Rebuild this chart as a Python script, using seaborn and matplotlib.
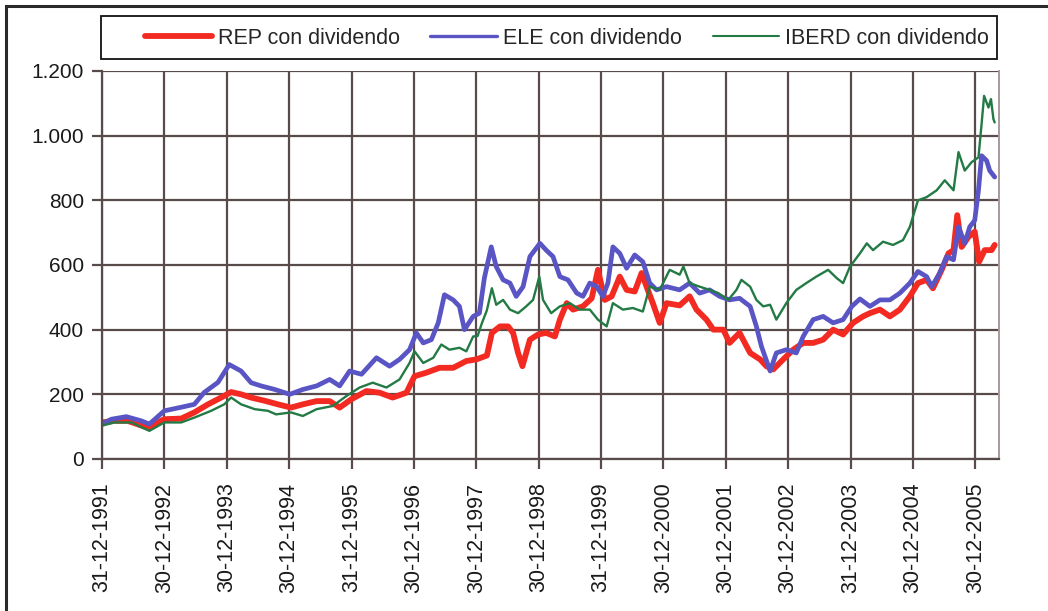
import matplotlib
matplotlib.use("Agg")
import matplotlib.pyplot as plt
import seaborn as sns
import pandas as pd
from matplotlib.lines import Line2D
from matplotlib.patches import Rectangle
from matplotlib.ticker import FuncFormatter

# values (x in decimal years, 1992.0 = 31-12-1991)
rep_years = [1992.00, 1992.20, 1992.41, 1992.73, 1993.00, 1993.27, 1993.48, 1993.70, 1993.91, 1994.07,
             1994.23, 1994.39, 1994.61, 1994.82, 1995.03, 1995.22, 1995.44, 1995.65, 1995.81, 1996.00,
             1996.24, 1996.45, 1996.66, 1996.88, 1997.01, 1997.20, 1997.41, 1997.63, 1997.84, 1998.00,
             1998.17, 1998.25, 1998.38, 1998.51, 1998.59, 1998.67, 1998.74, 1998.86, 1998.99, 1999.12,
             1999.26, 1999.34, 1999.45, 1999.55, 1999.71, 1999.85, 1999.95, 2000.06, 2000.17, 2000.30,
             2000.41, 2000.54, 2000.65, 2000.73, 2000.83, 2000.94, 2001.05, 2001.26, 2001.42, 2001.53,
             2001.69, 2001.80, 2001.96, 2002.06, 2002.22, 2002.39, 2002.55, 2002.65, 2002.76, 2002.92,
             2003.08, 2003.24, 2003.40, 2003.56, 2003.72, 2003.88, 2004.04, 2004.20, 2004.31, 2004.47,
             2004.63, 2004.79, 2004.95, 2005.08, 2005.22, 2005.32, 2005.46, 2005.57, 2005.65, 2005.71,
             2005.78, 2005.89, 2005.99, 2006.06, 2006.15, 2006.26, 2006.31]
rep_values = [113, 118, 118, 97, 123, 125, 144, 169, 190, 207,
              200, 190, 180, 169, 159, 169, 179, 179, 159, 185,
              210, 205, 190, 205, 256, 267, 282, 282, 303, 308,
              320, 390, 410, 410, 390, 328, 287, 369, 385, 390,
              379, 431, 482, 462, 472, 497, 585, 492, 503, 564,
              523, 518, 575, 533, 482, 421, 482, 475, 503, 462,
              431, 400, 400, 359, 390, 328, 308, 287, 277, 308,
              338, 359, 359, 369, 400, 385, 421, 441, 451, 462,
              441, 462, 503, 544, 554, 528, 585, 636, 646, 754,
              656, 687, 703, 610, 646, 646, 662]

ele_years = [1992.00, 1992.15, 1992.39, 1992.63, 1992.76, 1993.00, 1993.27, 1993.48, 1993.64, 1993.86,
             1994.04, 1994.23, 1994.39, 1994.55, 1994.77, 1995.01, 1995.22, 1995.44, 1995.65, 1995.81,
             1995.97, 1996.16, 1996.40, 1996.61, 1996.77, 1996.93, 1997.04, 1997.15, 1997.28, 1997.39,
             1997.49, 1997.63, 1997.73, 1997.81, 1997.95, 1998.05, 1998.13, 1998.24, 1998.32, 1998.43,
             1998.54, 1998.64, 1998.75, 1998.86, 1999.02, 1999.12, 1999.23, 1999.34, 1999.47, 1999.61,
             1999.71, 1999.82, 1999.93, 2000.03, 2000.11, 2000.19, 2000.30, 2000.41, 2000.54, 2000.67,
             2000.78, 2000.89, 2001.05, 2001.26, 2001.42, 2001.58, 2001.74, 2001.90, 2002.06, 2002.22,
             2002.39, 2002.49, 2002.57, 2002.71, 2002.81, 2002.97, 2003.13, 2003.24, 2003.40, 2003.56,
             2003.72, 2003.88, 2004.02, 2004.15, 2004.31, 2004.47, 2004.63, 2004.79, 2004.95, 2005.08,
             2005.22, 2005.30, 2005.43, 2005.54, 2005.65, 2005.73, 2005.83, 2005.91, 2005.99, 2006.05,
             2006.10, 2006.18, 2006.23, 2006.31]
ele_values = [108, 123, 131, 118, 108, 149, 160, 169, 206, 237,
              292, 272, 236, 226, 215, 200, 215, 226, 246, 226,
              272, 262, 313, 287, 308, 338, 390, 359, 369, 421,
              508, 492, 472, 400, 441, 451, 560, 656, 595, 554,
              544, 503, 533, 626, 667, 646, 626, 564, 554, 513,
              503, 544, 533, 503, 544, 656, 636, 590, 631, 610,
              544, 523, 533, 523, 544, 513, 523, 503, 492, 497,
              472, 410, 349, 272, 328, 338, 328, 379, 431, 441,
              421, 431, 472, 495, 472, 492, 492, 513, 544, 580,
              564, 533, 575, 626, 616, 718, 667, 718, 738, 831,
              938, 923, 892, 872]

iberd_years = [1992.00, 1992.20, 1992.47, 1992.76, 1993.00, 1993.27, 1993.48, 1993.75, 1993.96, 1994.07,
               1994.23, 1994.45, 1994.66, 1994.79, 1995.03, 1995.22, 1995.44, 1995.70, 1995.92, 1996.13,
               1996.34, 1996.56, 1996.77, 1996.93, 1997.01, 1997.15, 1997.31, 1997.44, 1997.57, 1997.73,
               1997.84, 1997.95, 1998.02, 1998.09, 1998.17, 1998.25, 1998.32, 1998.43, 1998.54, 1998.67,
               1998.80, 1998.91, 1999.01, 1999.07, 1999.20, 1999.34, 1999.50, 1999.66, 1999.82, 1999.95,
               2000.09, 2000.19, 2000.35, 2000.51, 2000.67, 2000.78, 2000.94, 2001.10, 2001.26, 2001.32,
               2001.42, 2001.58, 2001.74, 2001.88, 2002.04, 2002.17, 2002.25, 2002.39, 2002.49, 2002.60,
               2002.71, 2002.81, 2002.97, 2003.13, 2003.29, 2003.45, 2003.64, 2003.78, 2003.88, 2003.99,
               2004.15, 2004.26, 2004.36, 2004.52, 2004.68, 2004.84, 2004.95, 2005.08, 2005.22, 2005.38,
               2005.51, 2005.65, 2005.73, 2005.83, 2005.94, 2006.05, 2006.10, 2006.14, 2006.21, 2006.25,
               2006.29, 2006.31]
iberd_values = [103, 113, 113, 87, 113, 113, 128, 149, 169, 190,
                169, 154, 149, 138, 144, 133, 154, 164, 195, 221,
                236, 221, 246, 297, 333, 297, 313, 354, 338, 344,
                333, 379, 380, 420, 460, 528, 477, 492, 462, 451,
                472, 492, 564, 492, 451, 472, 482, 462, 462, 431,
                410, 482, 462, 467, 456, 533, 523, 585, 570, 595,
                544, 533, 523, 513, 492, 523, 554, 533, 492, 472,
                477, 431, 482, 523, 544, 564, 585, 559, 544, 595,
                636, 667, 646, 672, 662, 677, 718, 800, 810, 831,
                862, 831, 949, 892, 918, 933, 1036, 1123, 1087, 1113,
                1051, 1041]

tick_years = [1992, 1993, 1994, 1995, 1996, 1997, 1998, 1999, 2000, 2001, 2002, 2003, 2004, 2005, 2006]
tick_labels = ["31-12-1991", "30-12-1992", "30-12-1993", "30-12-1994", "31-12-1995",
               "30-12-1996", "30-12-1997", "30-12-1998", "31-12-1999", "30-12-2000",
               "30-12-2001", "30-12-2002", "31-12-2003", "30-12-2004", "30-12-2005"]

sns.set_style("white")
plt.rcParams["font.family"] = ["Liberation Sans", "DejaVu Sans"]

grid_col = "#5a4b4b"
rep_col, ele_col, iberd_col = "#f22a22", "#5a55c4", "#237a44"

fig = plt.figure(figsize=(10.48, 6.11), dpi=100)
ax = fig.add_axes([0.0973, 0.2488, 0.856, 0.635])

rep = pd.DataFrame({"year": rep_years, "value": rep_values})
ele = pd.DataFrame({"year": ele_years, "value": ele_values})
iberd = pd.DataFrame({"year": iberd_years, "value": iberd_values})

sns.lineplot(data=rep, x="year", y="value", ax=ax, color=rep_col, lw=4.2, estimator=None)
sns.lineplot(data=ele, x="year", y="value", ax=ax, color=ele_col, lw=3.4, estimator=None)
sns.lineplot(data=iberd, x="year", y="value", ax=ax, color=iberd_col, lw=1.7, estimator=None)

ax.set_xlim(1992, 2006.38)
ax.set_ylim(0, 1200)
ax.set_xticks(tick_years)
ax.set_xticklabels(tick_labels, rotation=90, fontsize=15.5, color="#1a1a1a")
ax.set_yticks(range(0, 1201, 200))
ax.yaxis.set_major_formatter(FuncFormatter(lambda v, p: f"{v:,.0f}".replace(",", ".")))
ax.tick_params(axis="y", labelsize=15, labelcolor="#1a1a1a", length=7, width=1.6,
               color=grid_col, pad=6, direction="out", left=True)
ax.tick_params(axis="x", length=7, width=1.6, color=grid_col, pad=10,
               direction="out", bottom=True)
ax.grid(True, color=grid_col, lw=1.6)
ax.set_axisbelow(True)
ax.set_xlabel("")
ax.set_ylabel("")
for side in ["left", "bottom"]:
    ax.spines[side].set_color(grid_col)
    ax.spines[side].set_linewidth(1.6)
ax.spines["top"].set_visible(False)
ax.spines["right"].set_color("#a89a9a")
ax.spines["right"].set_linewidth(1.4)

handles = [Line2D([], [], color=rep_col, lw=4.2),
           Line2D([], [], color=ele_col, lw=2.4),
           Line2D([], [], color=iberd_col, lw=1.5)]
labels = ["REP con dividendo", "ELE con dividendo", "IBERD con dividendo"]
fig.legend(handles, labels, loc="center left", bbox_to_anchor=(145 / 1048, 1 - 38 / 611),
           ncol=3, frameon=False, fontsize=15.5, handlelength=3.1, handletextpad=0.28,
           columnspacing=1.42, borderpad=0, borderaxespad=0)

# legend box and outer frame
fig.patches.append(Rectangle((101 / 1048, 1 - 59 / 611), 896 / 1048, 43 / 611,
                             transform=fig.transFigure, fill=False, ec="#111111", lw=1.3))
fig.patches.append(Rectangle((6 / 1048, -0.1), 1.2, 1.1 - 6 / 611,
                             transform=fig.transFigure, fill=False, ec="#2a2a2a", lw=2.2))

fig.savefig("out.png", dpi=100)
